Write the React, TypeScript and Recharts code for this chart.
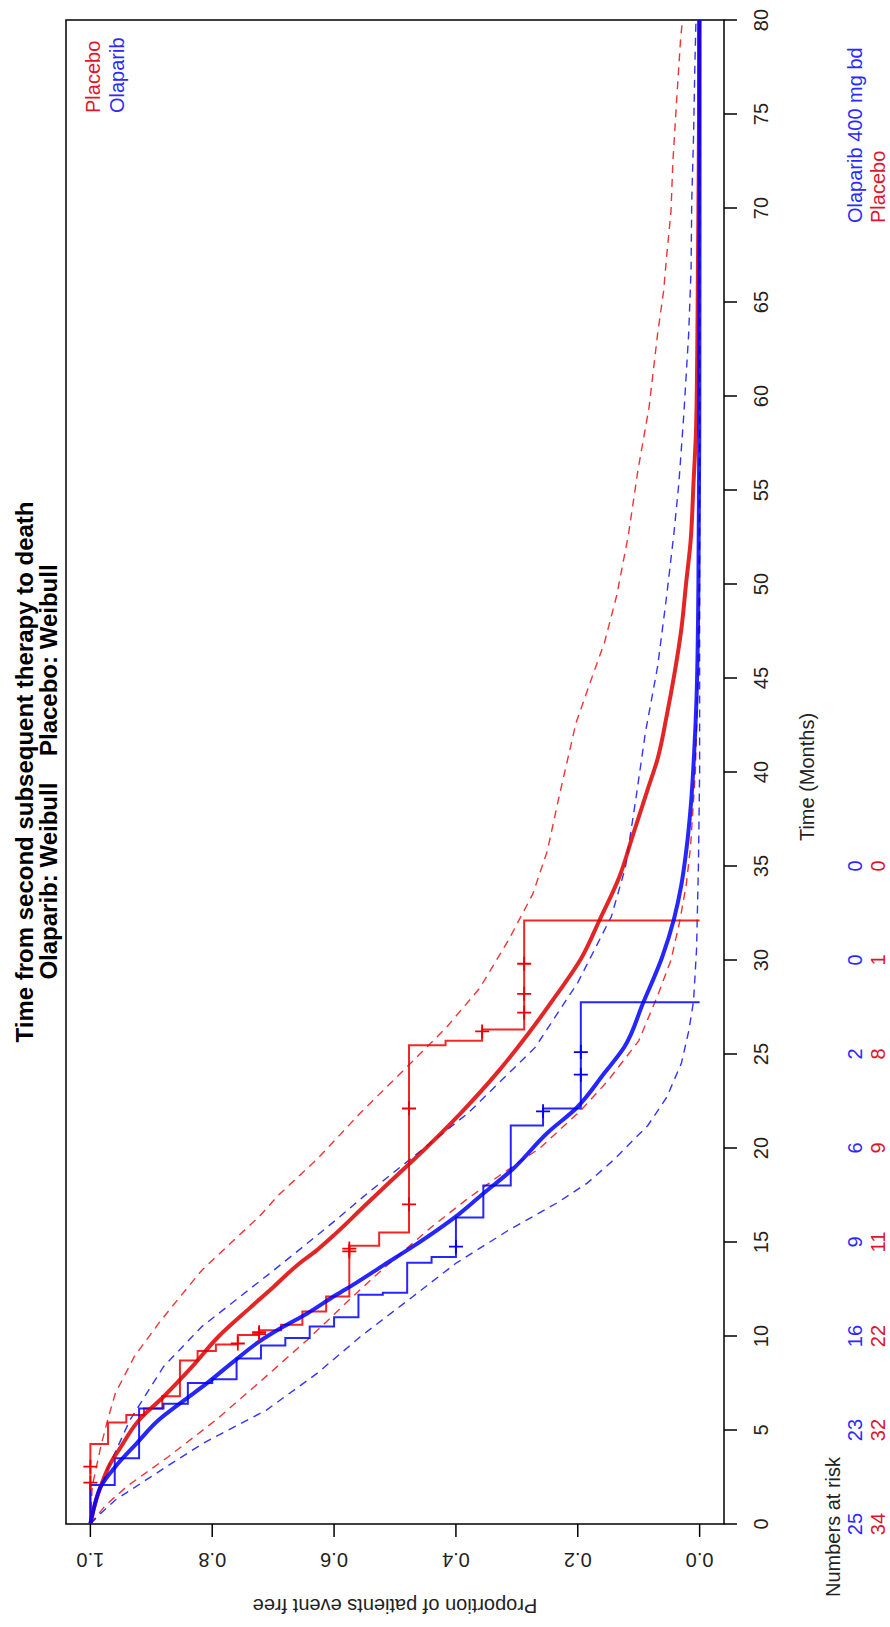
import React from 'react';
import { ComposedChart, Line, Scatter, XAxis, YAxis, ReferenceArea } from 'recharts';

// Time axis (months) and proportion axis ticks
const timeTicks = [0, 5, 10, 15, 20, 25, 30, 35, 40, 45, 50, 55, 60, 65, 70, 75, 80];
const propTicks = [0, 0.2, 0.4, 0.6, 0.8, 1.0];

// Numbers at risk
const riskTimes = [0, 5, 10, 15, 20, 25, 30, 35];
const riskOlaparib = [25, 23, 16, 9, 6, 2, 0, 0];
const riskPlacebo = [34, 32, 22, 11, 9, 8, 1, 0];

// Kaplan-Meier estimates: [month, proportion event free] at each drop
const placeboKM: [number, number][] = [
  [0, 1], [4.26, 0.971], [5.4, 0.941], [5.8, 0.912], [6.15, 0.882], [6.8, 0.853],
  [8.7, 0.824], [9.2, 0.794], [9.55, 0.758], [10.05, 0.723], [10.3, 0.687],
  [10.6, 0.652], [11.3, 0.613], [12.1, 0.575], [14.8, 0.526], [15.5, 0.477],
  [25.47, 0.417], [25.7, 0.357], [26.3, 0.288], [32.1, 0],
];
const placeboCensored: [number, number][] = [
  [2.2, 1], [3.05, 1], [9.6, 0.758], [10.1, 0.723], [10.2, 0.723], [14.5, 0.575],
  [14.65, 0.575], [17.0, 0.477], [22.1, 0.477], [26.2, 0.357], [27.2, 0.288],
  [28.2, 0.288], [29.8, 0.288],
];
const olaparibKM: [number, number][] = [
  [0, 1], [2.07, 0.96], [3.5, 0.92], [6.15, 0.88], [6.4, 0.84], [7.5, 0.8],
  [7.7, 0.76], [8.8, 0.72], [9.5, 0.68], [9.9, 0.64], [10.5, 0.6], [11.0, 0.56],
  [12.2, 0.52], [12.3, 0.48], [13.9, 0.44], [14.2, 0.4], [16.3, 0.355], [18.0, 0.31],
  [21.2, 0.257], [22.1, 0.195], [27.75, 0],
];
const olaparibCensored: [number, number][] = [
  [14.75, 0.4], [21.95, 0.257], [23.9, 0.195], [25.1, 0.195],
];

// Weibull fits
const placeboFit: [number, number][] = [
  [0, 1], [1, 0.993], [2, 0.983], [3.23, 0.967], [4, 0.952], [5.53, 0.92], [6.77, 0.88],
  [8.37, 0.833], [9.96, 0.79], [11.47, 0.739], [12.62, 0.699], [13.78, 0.66],
  [14.57, 0.628], [15.46, 0.597], [16.7, 0.557], [18.3, 0.505], [19.08, 0.479],
  [21.86, 0.392], [24.13, 0.329], [26.05, 0.282], [28.14, 0.235], [30.05, 0.195],
  [32.14, 0.164], [34.4, 0.132], [36.7, 0.109], [39.1, 0.085], [40.7, 0.069],
  [43, 0.054], [45.1, 0.042], [47.6, 0.03], [50.1, 0.022], [52.2, 0.015],
  [55.4, 0.01], [58.1, 0.006], [62, 0.004], [66, 0.003], [70, 0.002], [75, 0.001],
  [80, 0.001],
];
const olaparibFit: [number, number][] = [
  [0, 1], [1, 0.993], [1.99, 0.983], [3.05, 0.959], [4.29, 0.924], [5.53, 0.888],
  [6.51, 0.849], [7.48, 0.809], [8.72, 0.762], [9.7, 0.723], [10.5, 0.683],
  [11.2, 0.644], [12.18, 0.597], [12.8, 0.565], [13.78, 0.518], [14.75, 0.471],
  [16.31, 0.402], [17.5, 0.358], [18.9, 0.306], [20.8, 0.25], [22.1, 0.203],
  [24, 0.156], [25.35, 0.124], [27.7, 0.093], [30.2, 0.061], [32.2, 0.042],
  [34, 0.03], [35.8, 0.022], [38.4, 0.014], [41, 0.009], [44, 0.005], [50, 0.002],
  [60, 0.0005], [80, 0],
];

// Confidence limits of the fits
const placeboUpper: [number, number][] = [
  [0, 1], [2, 0.997], [3.05, 0.99], [4.1, 0.983], [5.5, 0.972], [6.95, 0.959],
  [8.9, 0.928], [10.67, 0.888], [12, 0.855], [13.5, 0.817], [14.93, 0.77],
  [16.35, 0.723], [17.5, 0.691], [19.4, 0.628], [21.86, 0.557], [24.1, 0.487],
  [26.4, 0.416], [28.5, 0.361], [31.1, 0.313], [33.5, 0.274], [35.8, 0.25],
  [38.5, 0.232], [42.6, 0.203], [45.1, 0.176], [46.9, 0.156], [49.4, 0.136],
  [52.6, 0.117], [56.1, 0.101], [59.4, 0.083], [63.3, 0.069], [65.6, 0.059],
  [67.5, 0.054], [69.8, 0.047], [72.4, 0.044], [75.6, 0.038], [79.1, 0.031],
  [80, 0.028],
];
const placeboLower: [number, number][] = [
  [0, 1], [1, 0.975], [2, 0.94], [3.58, 0.872], [5.53, 0.794], [7.3, 0.731],
  [9.79, 0.644], [11.74, 0.581], [13.16, 0.534], [14.4, 0.49], [15.8, 0.44],
  [17.2, 0.385], [18.5, 0.33], [20, 0.262], [22, 0.195], [23.6, 0.15], [25.7, 0.1],
  [28.1, 0.069], [30, 0.047], [32, 0.033], [34, 0.022], [36, 0.015], [40, 0.007],
  [45, 0.003], [50, 0.001], [60, 0], [80, 0],
];
const olaparibUpper: [number, number][] = [
  [0, 1], [1, 0.993], [2.7, 0.975], [5.53, 0.935], [8.37, 0.88], [10.5, 0.817],
  [12.1, 0.754], [13.5, 0.699], [14.93, 0.644], [16.17, 0.597], [17.6, 0.545],
  [19.4, 0.475], [21.86, 0.38], [25.35, 0.27], [28.8, 0.2], [32.3, 0.145],
  [34.9, 0.122], [38.5, 0.105], [42.1, 0.089], [45.6, 0.069], [49.4, 0.054],
  [52.75, 0.042], [55.4, 0.034], [59, 0.026], [63.3, 0.018], [66.8, 0.014],
  [70.3, 0.013], [73.8, 0.01], [77.3, 0.008], [80, 0.006],
];
const olaparibLower: [number, number][] = [
  [0, 1], [0.5, 0.985], [1.28, 0.959], [3.05, 0.875], [4.29, 0.815], [6.06, 0.711],
  [8.01, 0.628], [9.96, 0.557], [12.09, 0.471], [13.87, 0.4], [15.64, 0.313],
  [17.06, 0.235], [18.12, 0.185], [19.4, 0.14], [21.2, 0.085], [22.7, 0.054],
  [24.5, 0.03], [26.2, 0.018], [27.8, 0.01], [30.6, 0.005], [35, 0.002], [40, 0],
  [80, 0],
];

const W = 1627;
const H = 890;
const FONT = '"Liberation Sans", Arial, Helvetica, sans-serif';
const RED = '#ee0000';
const BLUE = '#0000ff';
const TXT_RED = '#e0142a';
const TXT_BLUE = '#2a2aff';

const pts = (rows: [number, number][]) => rows.map(([t, p]) => ({ t, p }));

const TimeTick = (props: any) => {
  const { x, payload } = props;
  const v = payload.value;
  const i = riskTimes.indexOf(v);
  return (
    <g fontFamily={FONT} fontSize={20}>
      <text x={x} y={768} textAnchor="middle" fill="#222">{v}</text>
      {i >= 0 && (
        <text x={x} y={862} textAnchor="middle" fill={TXT_BLUE}>{riskOlaparib[i]}</text>
      )}
      {i >= 0 && (
        <text x={x} y={885} textAnchor="middle" fill={TXT_RED}>{riskPlacebo[i]}</text>
      )}
    </g>
  );
};

const PropTick = (props: any) => {
  const { y, payload } = props;
  return (
    <text
      x={74}
      y={y}
      transform={`rotate(-90, 74, ${y})`}
      textAnchor="middle"
      fontFamily={FONT}
      fontSize={20}
      fill="#222"
    >
      {Number(payload.value).toFixed(1)}
    </text>
  );
};

const plus = (color: string) => (props: any) => {
  const { cx, cy } = props;
  return (
    <path
      d={`M${cx - 7},${cy}H${cx + 7}M${cx},${cy - 7}V${cy + 7}`}
      stroke={color}
      strokeWidth={1.8}
      fill="none"
    />
  );
};

export default function App() {
  return (
    <div
      style={{
        position: 'absolute',
        left: 0,
        top: 0,
        width: H,
        height: W,
        overflow: 'hidden',
        background: '#fff',
      }}
    >
      <div
        style={{
          position: 'absolute',
          left: 0,
          top: 0,
          width: W,
          height: H,
          transformOrigin: '0 0',
          transform: `translate(0px, ${W}px) rotate(-90deg)`,
        }}
      >
        <ComposedChart width={W} height={H} margin={{ top: 66, right: 20, bottom: 0, left: 0 }}>
          <XAxis
            dataKey="t"
            type="number"
            domain={[0, 80]}
            ticks={timeTicks}
            interval={0}
            allowDataOverflow
            axisLine={false}
            tickLine={{ stroke: '#000', strokeWidth: 1.5 }}
            tickSize={13}
            tickMargin={0}
            height={166}
            tick={<TimeTick />}
          />
          <YAxis
            dataKey="p"
            type="number"
            domain={[-0.04, 1.04]}
            ticks={propTicks}
            interval={0}
            allowDataOverflow
            axisLine={false}
            tickLine={{ stroke: '#000', strokeWidth: 1.5 }}
            tickSize={13}
            tickMargin={0}
            width={103}
            tick={<PropTick />}
          />
          <ReferenceArea
            x1={0}
            x2={80}
            y1={-0.04}
            y2={1.04}
            fill="none"
            stroke="#000"
            strokeWidth={1.5}
          />

          {/* confidence limits */}
          <Line data={pts(placeboUpper)} dataKey="p" type="linear" stroke={RED} strokeOpacity={0.8} strokeWidth={1.4} strokeDasharray="8 6" dot={false} isAnimationActive={false} />
          <Line data={pts(placeboLower)} dataKey="p" type="linear" stroke={RED} strokeOpacity={0.8} strokeWidth={1.4} strokeDasharray="8 6" dot={false} isAnimationActive={false} />
          <Line data={pts(olaparibUpper)} dataKey="p" type="linear" stroke={BLUE} strokeOpacity={0.8} strokeWidth={1.4} strokeDasharray="8 6" dot={false} isAnimationActive={false} />
          <Line data={pts(olaparibLower)} dataKey="p" type="linear" stroke={BLUE} strokeOpacity={0.8} strokeWidth={1.4} strokeDasharray="8 6" dot={false} isAnimationActive={false} />

          {/* Kaplan-Meier steps */}
          <Line data={pts(placeboKM)} dataKey="p" type="stepAfter" stroke={RED} strokeOpacity={0.85} strokeWidth={2} dot={false} isAnimationActive={false} />
          <Line data={pts(olaparibKM)} dataKey="p" type="stepAfter" stroke={BLUE} strokeOpacity={0.85} strokeWidth={2} dot={false} isAnimationActive={false} />

          {/* Weibull fits */}
          <Line data={pts(placeboFit)} dataKey="p" type="monotone" stroke={'#dd0000'} strokeOpacity={0.85} strokeWidth={4} dot={false} isAnimationActive={false} />
          <Line data={pts(olaparibFit)} dataKey="p" type="monotone" stroke={BLUE} strokeOpacity={0.85} strokeWidth={4} dot={false} isAnimationActive={false} />

          {/* censoring marks */}
          <Scatter data={pts(placeboCensored)} dataKey="p" shape={plus(RED)} isAnimationActive={false} />
          <Scatter data={pts(olaparibCensored)} dataKey="p" shape={plus(BLUE)} isAnimationActive={false} />
        </ComposedChart>

        <svg
          width={W}
          height={H}
          style={{ position: 'absolute', left: 0, top: 0, pointerEvents: 'none' }}
          fontFamily={FONT}
        >
          <text x={855} y={33} textAnchor="middle" fontSize={24} fontWeight="bold" fill="#000">
            Time from second subsequent therapy to death
          </text>
          <text x={855} y={57} textAnchor="middle" fontSize={24} fontWeight="bold" fill="#000" style={{ whiteSpace: 'pre' }}>
            {'Olaparib: Weibull    Placebo: Weibull'}
          </text>

          <text x={1514} y={100} fontSize={20} fill={TXT_RED}>Placebo</text>
          <text x={1514} y={124} fontSize={20} fill={TXT_BLUE}>Olaparib</text>

          <text
            x={28}
            y={395}
            transform="rotate(-90, 28, 395)"
            textAnchor="middle"
            fontSize={20}
            fill="#222"
          >
            Proportion of patients event free
          </text>

          <text x={850} y={814} textAnchor="middle" fontSize={20} fill="#222">Time (Months)</text>
          <text x={30} y={840} fontSize={20} fill="#222">Numbers at risk</text>

          <text x={1404} y={862} fontSize={20} fill={TXT_BLUE}>Olaparib 400 mg bd</text>
          <text x={1404} y={885} fontSize={20} fill={TXT_RED}>Placebo</text>
        </svg>
      </div>
    </div>
  );
}
